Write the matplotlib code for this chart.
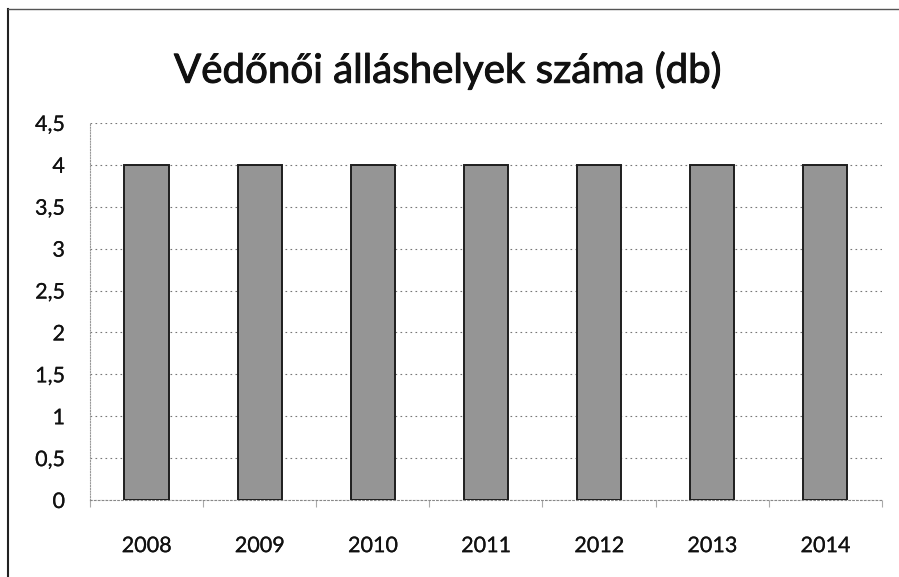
import matplotlib
matplotlib.use("Agg")
import matplotlib.pyplot as plt
from matplotlib.ticker import FuncFormatter, MultipleLocator
from matplotlib.lines import Line2D
import matplotlib.patheffects as pe

years = ["2008", "2009", "2010", "2011", "2012", "2013", "2014"]
values = [4, 4, 4, 4, 4, 4, 4]
title = "Védőnői álláshelyek száma (db)"

plt.rcParams['font.family'] = ['Lato', 'DejaVu Sans']

fig = plt.figure(figsize=(8.99, 5.77), dpi=100)
ax = fig.add_axes([0.100, 0.1334, 0.881, 0.6535])

x = range(len(years))
ax.bar(x, values, width=0.39, color='#959595', edgecolor='#1e1e1e', linewidth=1.4, zorder=3)

ax.set_ylim(0, 4.5)
ax.set_xlim(-0.5, len(years) - 0.5)
ax.yaxis.set_major_locator(MultipleLocator(0.5))
ax.yaxis.set_major_formatter(FuncFormatter(lambda v, p: ('%g' % v).replace('.', ',')))
ax.set_xticks(list(x))
ax.set_xticklabels(years)
ax.tick_params(axis='both', labelsize=15.5, colors='#111111', length=0)
ax.tick_params(axis='x', pad=26)
ax.tick_params(axis='y', pad=18)
thin = [pe.withStroke(linewidth=0.15, foreground='#111111')]
for lbl in ax.get_xticklabels() + ax.get_yticklabels():
    lbl.set_path_effects(thin)

# minor ticks at category boundaries on x axis
ax.set_xticks([i + 0.5 for i in range(-1, len(years))], minor=True)
ax.tick_params(axis='x', which='minor', length=5, color='#aaaaaa', width=0.8)

ax.grid(axis='y', linestyle=(0, (1.5, 3)), color='#777777', linewidth=0.8, zorder=0)
for s in ['top', 'right']:
    ax.spines[s].set_visible(False)
ax.spines['left'].set_linestyle((0, (1, 1.5)))
ax.spines['left'].set_color('#999999')
ax.spines['left'].set_linewidth(0.8)
ax.spines['bottom'].set_linestyle((0, (1.5, 2)))
ax.spines['bottom'].set_color('#888888')
ax.spines['bottom'].set_linewidth(0.8)

t = fig.text(0.498, 0.878, title, ha='center', va='center', fontsize=29, color='#111111')
t.set_path_effects([pe.withStroke(linewidth=0.7, foreground='#111111')])

# scanned frame lines (left and top)
fig.add_artist(Line2D([0.009, 0.009], [0.0, 0.985], transform=fig.transFigure, color='#222222', linewidth=1.5))
fig.add_artist(Line2D([0.009, 1.0], [0.985, 0.985], transform=fig.transFigure, color='#555555', linewidth=1.0))

fig.savefig("out.png", dpi=100)
